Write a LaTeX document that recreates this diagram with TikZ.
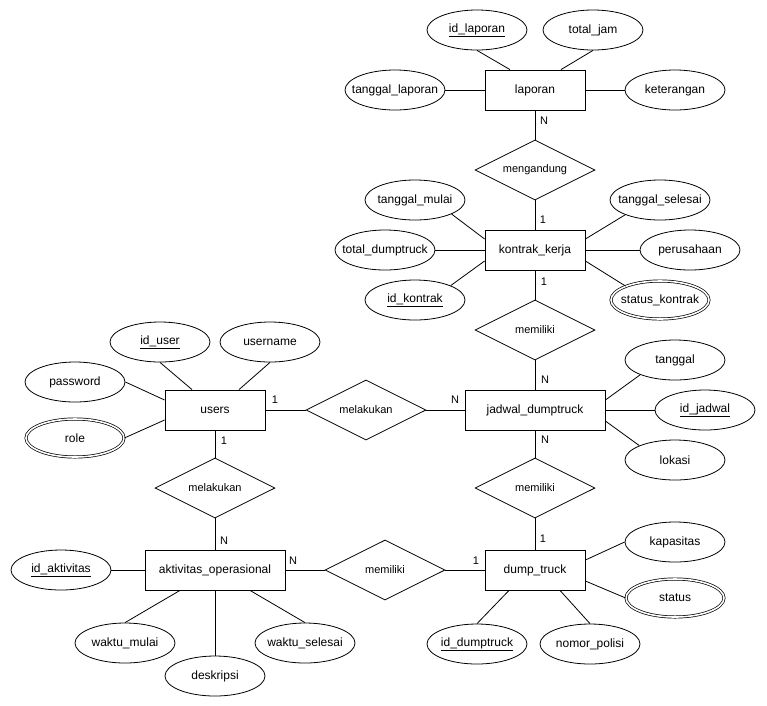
\documentclass[tikz,border=0pt]{standalone}
\usepackage{fontspec}
\setmainfont{Liberation Sans}
\usetikzlibrary{shapes.geometric}
\tikzset{
  ent/.style={draw, rectangle, line width=0.8pt, minimum width=100pt, minimum height=40pt, inner sep=0pt, font=\fontsize{12}{14}\selectfont},
  attr/.style={draw, ellipse, line width=0.8pt, minimum width=100pt, minimum height=40pt, inner sep=0pt, font=\fontsize{12}{14}\selectfont},
  dattr/.style={attr, double, double distance=1.6pt, line width=0.7pt, minimum width=98pt, minimum height=38pt},
  rel/.style={draw, diamond, line width=0.8pt, minimum width=120pt, minimum height=60pt, inner sep=0pt, font=\fontsize{11}{13}\selectfont},
  card/.style={inner sep=0pt, font=\fontsize{11}{13}\selectfont},
  conn/.style={line width=0.8pt}
}
\begin{document}
\begin{tikzpicture}[x=1pt,y=-1pt]
\fill[white] (0,0) rectangle (767,705);
\useasboundingbox (0,0) rectangle (767,705);
% entities
\node[ent] (laporan) at (535,90) {laporan};
\node[ent] (kontrak) at (535,250) {kontrak\_kerja};
\node[ent, minimum width=140pt] (jadwal) at (535,410) {jadwal\_dumptruck};
\node[ent] (users) at (215,410) {users};
\node[ent, minimum width=140pt] (aktivitas) at (215,570) {aktivitas\_operasional};
\node[ent] (dump) at (535,570) {dump\_truck};
% relationships
\node[rel] (mengandung) at (535,170) {\makebox[0pt]{mengandung}};
\node[rel] (memiliki1) at (535,330) {\makebox[0pt]{memiliki}};
\node[rel] (melakukan1) at (366,410) {\makebox[0pt]{melakukan}};
\node[rel] (memiliki2) at (535,488) {\makebox[0pt]{memiliki}};
\node[rel] (melakukan2) at (215,488) {\makebox[0pt]{melakukan}};
\node[rel] (memiliki3) at (385,570) {\makebox[0pt]{memiliki}};
% attributes laporan
\node[attr] (idlap) at (477,30) {\makebox[0pt]{\underline{id\_laporan}}};
\node[attr] (totjam) at (593,30) {\makebox[0pt]{total\_jam}};
\node[attr] (tgllap) at (395,90) {\makebox[0pt]{tanggal\_laporan}};
\node[attr] (ket) at (675,90) {\makebox[0pt]{keterangan}};
% attributes kontrak
\node[attr] (tmulai) at (415,200) {\makebox[0pt]{tanggal\_mulai}};
\node[attr] (totdt) at (385,250) {\makebox[0pt]{total\_dumptruck}};
\node[attr] (idkon) at (415,300) {\makebox[0pt]{\underline{id\_kontrak}}};
\node[attr] (tsel) at (660,200) {\makebox[0pt]{tanggal\_selesai}};
\node[attr] (perus) at (690,250) {\makebox[0pt]{perusahaan}};
\node[dattr] (statk) at (660,300) {\makebox[0pt]{status\_kontrak}};
% attributes jadwal
\node[attr] (tgl) at (675,360) {\makebox[0pt]{tanggal}};
\node[attr] (idjad) at (705,410) {\makebox[0pt]{\underline{id\_jadwal}}};
\node[attr] (lok) at (675,460) {\makebox[0pt]{lokasi}};
% attributes users
\node[attr] (iduser) at (160,342) {\makebox[0pt]{\underline{id\_user}}};
\node[attr] (uname) at (270,342) {\makebox[0pt]{username}};
\node[attr] (pass) at (75,382) {\makebox[0pt]{password}};
\node[dattr] (role) at (75,438) {\makebox[0pt]{role}};
% attributes aktivitas
\node[attr] (idakt) at (61,570) {\makebox[0pt]{\underline{id\_aktivitas}}};
\node[attr] (wmulai) at (125,643) {\makebox[0pt]{waktu\_mulai}};
\node[attr] (desk) at (215,676) {\makebox[0pt]{deskripsi}};
\node[attr] (wsel) at (305,643) {\makebox[0pt]{waktu\_selesai}};
% attributes dump truck
\node[attr] (kap) at (675,542) {\makebox[0pt]{kapasitas}};
\node[dattr] (stat) at (675,598) {\makebox[0pt]{status}};
\node[attr] (iddt) at (477,644) {\makebox[0pt]{\underline{id\_dumptruck}}};
\node[attr] (nopol) at (590,644) {\makebox[0pt]{nomor\_polisi}};
% relationship connectors
\draw[conn] (laporan.south) -- (mengandung.north);
\draw[conn] (mengandung.south) -- (kontrak.north);
\draw[conn] (kontrak.south) -- (memiliki1.north);
\draw[conn] (memiliki1.south) -- (jadwal.north);
\draw[conn] (users.east) -- (melakukan1.west);
\draw[conn] (melakukan1.east) -- (jadwal.west);
\draw[conn] (jadwal.south) -- (memiliki2.north);
\draw[conn] (memiliki2.south) -- (dump.north);
\draw[conn] (users.south) -- (melakukan2.north);
\draw[conn] (melakukan2.south) -- (aktivitas.north);
\draw[conn] (aktivitas.east) -- (memiliki3.west);
\draw[conn] (memiliki3.east) -- (dump.west);
% attribute connectors
\draw[conn] (idlap.south) -- ([xshift=-25pt]laporan.north);
\draw[conn] (totjam.south) -- ([xshift=26pt]laporan.north);
\draw[conn] (tgllap.east) -- (laporan.west);
\draw[conn] (ket.west) -- (laporan.east);
\draw[conn] (tmulai.-21) -- ([yshift=11pt]kontrak.west);
\draw[conn] (totdt.east) -- (kontrak.west);
\draw[conn] (idkon.22) -- ([yshift=-11pt]kontrak.west);
\draw[conn] (tsel.-157) -- ([yshift=11pt]kontrak.east);
\draw[conn] (perus.west) -- (kontrak.east);
\draw[conn] (statk.158) -- ([yshift=-11pt]kontrak.east);
\draw[conn] (tgl.-157) -- ([yshift=10pt]jadwal.east);
\draw[conn] (idjad.west) -- (jadwal.east);
\draw[conn] (lok.158) -- ([yshift=-11pt]jadwal.east);
\draw[conn] (iduser.south) -- ([xshift=-23pt]users.north);
\draw[conn] (uname.south) -- ([xshift=24pt]users.north);
\draw[conn] (pass.east) -- ([yshift=10pt]users.west);
\draw[conn] (role.east) -- ([yshift=-10pt]users.west);
\draw[conn] (idakt.east) -- (aktivitas.west);
\draw[conn] (wmulai.north) -- ([xshift=-35pt]aktivitas.south);
\draw[conn] (desk.north) -- (aktivitas.south);
\draw[conn] (wsel.north) -- ([xshift=35pt]aktivitas.south);
\draw[conn] (kap.west) -- ([yshift=10pt]dump.east);
\draw[conn] (stat.west) -- ([yshift=-11pt]dump.east);
\draw[conn] (iddt.north) -- ([xshift=-26pt]dump.south);
\draw[conn] (nopol.north) -- ([xshift=25pt]dump.south);
% cardinalities
\node[card] (c1) at (544,121) {N};
\node[card] (c2) at (543,220) {1};
\node[card] (c3) at (544,282) {1};
\node[card] (c4) at (545,380) {N};
\node[card] (c5) at (455,400) {N};
\node[card] (c6) at (275,400) {1};
\node[card] (c7) at (545,440) {N};
\node[card] (c8) at (543,539) {1};
\node[card] (c9) at (224,441) {1};
\node[card] (c10) at (224,541) {N};
\node[card] (c11) at (293,561) {N};
\node[card] (c12) at (476,561) {1};
\end{tikzpicture}
\end{document}
